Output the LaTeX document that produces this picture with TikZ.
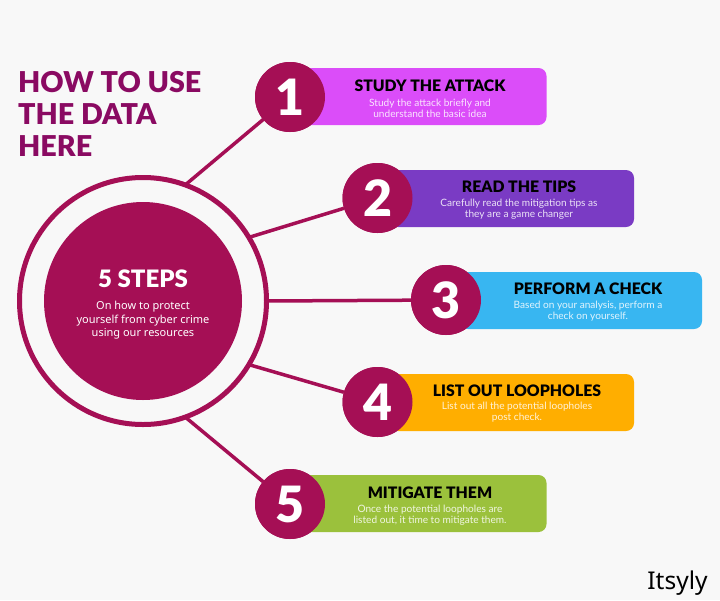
\documentclass[tikz,border=0pt]{standalone}
\usepackage{fontspec}
\setmainfont{Noto Sans}
\newfontfamily\heavy{Lato Black}
\newfontfamily\bodyf{Lato}
\definecolor{bgc}{HTML}{F8F8F8}
\definecolor{crim}{HTML}{A50F55}
\definecolor{headc}{HTML}{8A0A62}
\definecolor{cA}{HTML}{DB4DF9}
\definecolor{cB}{HTML}{7A3BC4}
\definecolor{cC}{HTML}{38B6F1}
\definecolor{cD}{HTML}{FFAE00}
\definecolor{cE}{HTML}{9BC13C}
\tikzset{
  bar/.style={rounded corners=8pt,draw=none,fill=#1},
  numdisc/.style={circle,fill=crim,minimum size=70pt,inner sep=0pt,outer sep=0pt,text=white,font=\fontsize{50}{50}\selectfont\heavy},
  boxtitle/.style={anchor=center,text=black,font=\fontsize{15.8}{16}\selectfont\heavy,inner sep=0pt},
  boxtext/.style={anchor=center,text=white,opacity=0.85,align=center,font=\fontsize{10.1}{11}\selectfont\bodyf,inner sep=0pt},
  link/.style={draw=crim,line width=3.5pt},
  heading/.style={anchor=west,text=headc,font=\fontsize{28.7}{29}\selectfont\heavy,inner sep=0pt}
}
\begin{document}
\begin{tikzpicture}[x=1pt,y=-1pt]
\useasboundingbox[fill=bgc] (0,0) rectangle (720,600);
% heading
\node[heading] (h1) at (18,82) {HOW TO USE};
\node[heading] (h2) at (18,114) {THE DATA};
\node[heading] (h3) at (18,146) {HERE};
% hub
\node[circle,draw=crim,line width=5pt,minimum size=247pt,inner sep=0pt,outer sep=0pt] (ring) at (143,301) {};
\node[circle,fill=crim,minimum size=198pt,inner sep=0pt] (hub) at (143,301) {};
\node[text=white,font=\fontsize{24}{24}\selectfont\heavy,inner sep=0pt] (hubt) at (143,279) {5 STEPS};
\node[text=white,align=center,font=\fontsize{11}{13.5}\selectfont,inner sep=0pt] (hubs) at (143,320.5) {On how to protect\\yourself from cyber crime\\using our resources};
% discs
\node[numdisc] (n1) at (290,97) {};
\node[numdisc] (n2) at (377.5,198) {};
\node[numdisc] (n3) at (446,300) {};
\node[numdisc] (n4) at (377.5,402) {};
\node[numdisc] (n5) at (290,504) {};
% links
\draw[link] (ring.70) -- (n1);
\draw[link] (ring.31) -- (n2);
\draw[link] (ring.east) -- (n3);
\draw[link] (ring.-31) -- (n4);
\draw[link] (ring.-70) -- (n5);
% bars
\fill[bar=cA] (300,68) rectangle (546.5,125);
\fill[bar=cB] (390,170) rectangle (634,227);
\fill[bar=cC] (460,272) rectangle (702,329);
\fill[bar=cD] (390,374) rectangle (634,431);
\fill[bar=cE] (300,475) rectangle (546.5,532);
% redraw discs on top
\node[numdisc] at (290,97) {1};
\node[numdisc] at (377.5,198) {2};
\node[numdisc] at (446,300) {3};
\node[numdisc] at (377.5,402) {4};
\node[numdisc] at (290,504) {5};
% labels
\node[boxtitle] (t1) at (430,86) {STUDY THE ATTACK};
\node[boxtext] (s1) at (430,108) {Study the attack briefly and\\understand the basic idea};
\node[boxtitle] (t2) at (519,187) {READ THE TIPS};
\node[boxtext] (s2) at (519,209.5) {Carefully read the mitigation tips as\\they are a game changer};
\node[boxtitle] (t3) at (588,289) {PERFORM A CHECK};
\node[boxtext] (s3) at (588,311) {Based on your analysis, perform a\\check on yourself.};
\node[boxtitle] (t4) at (517,391) {LIST OUT LOOPHOLES};
\node[boxtext] (s4) at (517,412.5) {List out all the potential loopholes\\post check.};
\node[boxtitle] (t5) at (430,493) {MITIGATE THEM};
\node[boxtext] (s5) at (430,515) {Once the potential loopholes are\\listed out, it time to mitigate them.};
\node[text=black,font=\fontsize{24.5}{25}\selectfont,inner sep=0pt] (brand) at (677.5,583) {Itsyly};
\end{tikzpicture}
\end{document}
